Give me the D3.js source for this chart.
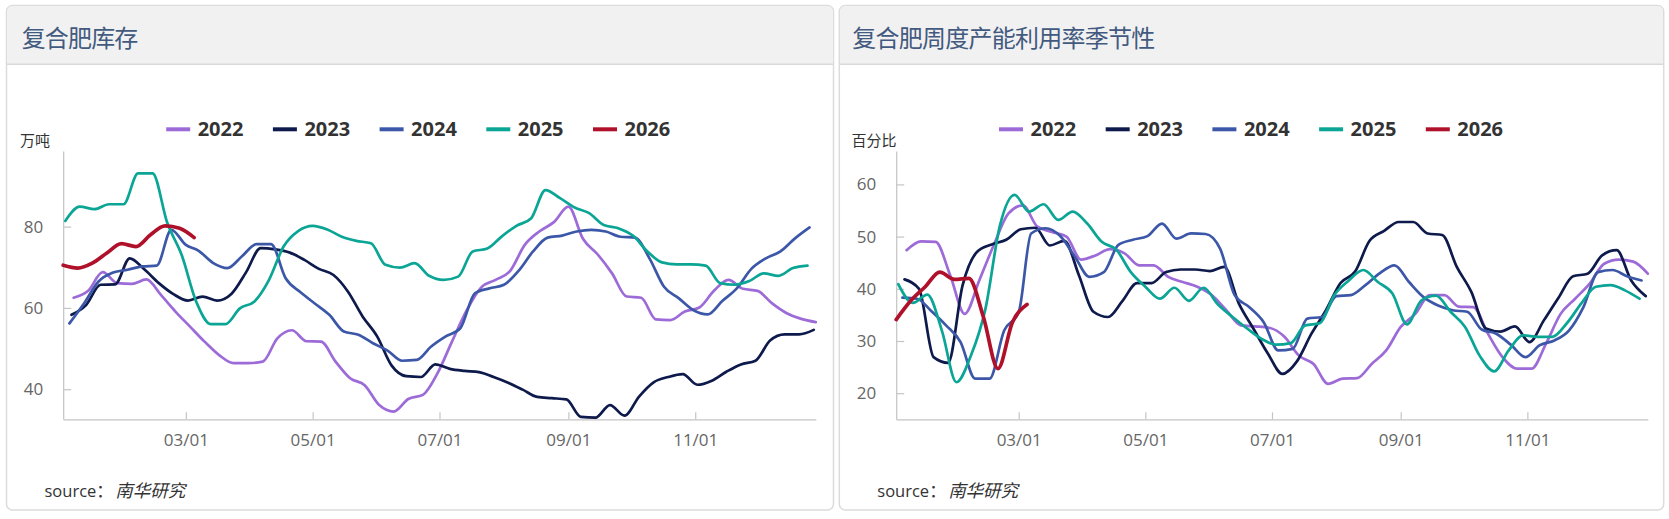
<!DOCTYPE html>
<html><head><meta charset="utf-8">
<script src="https://cdn.jsdelivr.net/npm/d3@7/dist/d3.min.js"></script>
<style>
html,body{margin:0;padding:0;background:#fff;}
svg{display:block;}
text{font-family:"Open Sans","Noto Sans CJK SC",sans-serif;}
</style></head>
<body>
<svg id="c" width="1669" height="519"></svg>
<script>
// ---------- data ----------
const years = ["2022","2023","2024","2025","2026"];
const colors = ["#9d6bd8","#0d1a4b","#3c57a8","#0ba596","#b0112a"];
const widths = [2.7,2.7,2.7,2.7,3.7];
// first weekly (Thursday) observation of each year; later points are weekly
const firstDates = ["2022-01-06","2023-01-05","2024-01-04","2025-01-02","2026-01-01"];
const xTickLabels = ["03/01","05/01","07/01","09/01","11/01"];

// 复合肥库存 (万吨)
const inv2022 = [62.5,64.2,68.8,66.1,65.9,67.0,63.2,59.1,55.4,51.7,48.4,46.4,46.4,46.8,52.5,54.5,51.8,51.7,46.8,42.7,41.0,36.1,34.5,37.6,38.6,43.9,51.7,59.3,65.0,66.9,69.1,75.5,78.8,81.1,84.9,77.0,73.2,68.5,62.8,62.5,57.2,57.0,59.1,60.1,64.2,66.9,64.7,64.2,61.1,58.7,57.3,56.5];
const inv2023 = [58.3,60.7,65.7,65.8,72.2,69.5,66.1,63.4,61.8,62.8,61.8,63.5,68.8,74.7,74.4,73.6,71.8,69.6,68.1,64.0,57.9,53.0,45.8,43.2,43.0,46.1,45.0,44.5,44.2,43.0,41.6,39.9,38.1,37.8,37.5,33.2,33.0,36.1,33.5,38.2,41.7,43.0,43.7,41.1,42.1,44.3,46.1,47.0,52.0,53.5,53.5,54.6];
const inv2024 = [56.2,61.1,66.5,68.7,69.4,70.2,70.4,79.2,75.5,74.1,71.1,69.8,72.7,75.7,75.7,67.3,63.9,61.1,58.3,54.2,53.4,51.3,49.5,47.0,47.2,50.5,53.0,55.0,63.6,64.8,65.7,69.1,73.9,77.3,77.8,78.8,79.2,78.8,77.5,77.3,72.2,65.2,62.4,59.5,58.4,61.7,64.8,69.6,72.2,73.9,77.1,79.8];
const inv2025 = [81.4,84.9,84.3,85.5,85.5,93.1,93.1,81.0,73.0,61.5,56.0,56.0,59.9,61.6,66.9,75.1,78.9,80.2,79.3,77.5,76.5,75.9,70.6,69.9,71.0,67.9,66.9,67.7,73.9,74.6,77.6,80.2,82.0,89.0,87.0,84.7,83.3,80.4,79.6,77.8,73.9,71.2,70.7,70.7,70.4,66.1,65.7,66.6,68.5,67.9,69.8,70.4];
const inv2026 = [70.5,69.8,71.0,73.5,75.8,75.1,78.0,80.2,79.6,77.3];
const invTicks = [40,60,80];

// 复合肥周度产能利用率 (百分比)
const util2022 = [47.4,49.1,49.0,42.6,35.2,41.6,48.4,54.4,56.0,51.9,50.9,50.0,45.6,46.4,47.6,46.8,44.5,44.5,42.3,41.3,40.4,38.8,35.9,33.0,32.8,32.5,30.8,27.2,25.6,21.8,22.8,22.9,25.6,28.2,32.7,35.2,38.8,38.8,36.6,36.5,31.4,26.9,24.7,24.7,29.5,35.2,38.1,41.0,44.8,45.6,45.2,42.9];
const util2023 = [41.8,40.0,26.9,25.8,40.7,47.1,48.5,49.4,51.4,51.7,48.3,49.2,42.6,35.6,34.6,37.7,41.1,41.1,43.2,43.7,43.7,43.4,44.2,37.2,32.4,27.6,23.7,26.1,31.4,35.9,41.1,43.3,49.2,51.1,52.8,52.8,50.6,50.3,44.2,39.4,32.4,31.8,32.8,29.8,34.0,38.3,42.4,42.9,46.4,47.4,41.6,38.6];
const util2024 = [38.3,38.1,35.7,33.0,29.8,22.8,22.8,32.0,35.5,50.6,51.6,50.1,46.2,42.3,43.2,48.4,49.4,50.1,52.5,49.6,50.6,50.5,47.7,38.8,36.5,33.6,28.2,28.5,34.3,34.6,38.6,38.8,40.7,43.0,44.5,41.3,38.4,36.8,35.9,35.6,32.2,31.4,29.3,26.9,29.2,30.1,32.0,36.5,43.2,43.6,42.4,41.6];
const util2025 = [40.9,37.3,38.9,32.0,22.1,27.2,36.2,52.2,58.0,54.8,56.2,53.2,54.8,52.5,49.0,47.5,43.2,40.4,38.1,40.2,37.7,40.2,37.0,34.6,32.4,30.4,29.3,29.6,33.0,33.4,38.8,41.6,43.6,41.3,39.1,33.2,37.8,38.7,35.6,32.7,27.2,24.2,28.2,31.1,30.8,30.8,33.4,37.2,40.4,40.7,39.7,38.1];
const util2026 = [34.1,37.7,40.4,43.2,41.8,42.0,34.6,24.7,33.6,37.0];
const utilTicks = [20,30,40,50,60];

// ---------- drawing ----------
const svg = d3.select("#c");
const BASE = 2025;
const parseISO = d3.timeParse("%Y-%m-%d");
function toBase(dt){ return new Date(BASE, dt.getMonth(), dt.getDate()); }
function seriesPoints(values, first){
  const f = parseISO(first);
  return values.map((v,i)=>({date: toBase(d3.timeDay.offset(f, 7*i)), value: v}));
}
const tickDates = xTickLabels.map(s=>{const [m,d]=s.split("/").map(Number); return new Date(BASE, m-1, d);});

function drawPanel(cfg){
  const g = svg.append("g");
  const {px, py, pw, ph} = cfg;
  const r = 6, hh = 58.8;
  g.append("rect").attr("x",px).attr("y",py).attr("width",pw).attr("height",ph)
    .attr("rx",r).attr("fill","#fff").attr("stroke","#dcdcdc").attr("stroke-width",1.5);
  g.append("path")
    .attr("d",`M${px+0.75},${py+hh} V${py+r} Q${px+0.75},${py+0.75} ${px+r},${py+0.75} H${px+pw-r} Q${px+pw-0.75},${py+0.75} ${px+pw-0.75},${py+r} V${py+hh} Z`)
    .attr("fill","#f1f1f1");
  g.append("line").attr("x1",px).attr("x2",px+pw).attr("y1",py+hh).attr("y2",py+hh)
    .attr("stroke","#d9d9d9").attr("stroke-width",1.5);
  g.append("text").attr("x",cfg.titleX).attr("y",37).attr("dominant-baseline","central")
    .attr("font-size",24).attr("textLength",cfg.titleLen).attr("lengthAdjust","spacing")
    .attr("fill","#435a80").text(cfg.title);

  const x = d3.scaleTime().domain([new Date(BASE,0,1), new Date(BASE,11,29)]).range([cfg.x0, cfg.x1]);
  const y = d3.scaleLinear().domain(cfg.yDomain).range([cfg.yb, cfg.yt]);

  const ya = g.append("g").attr("transform",`translate(${cfg.x0},0)`)
    .call(d3.axisLeft(y).tickValues(cfg.yTicks).tickSize(-8).tickSizeOuter(0).tickPadding(20));
  const xa = g.append("g").attr("transform",`translate(0,${cfg.yb})`)
    .call(d3.axisBottom(x).tickValues(tickDates).tickFormat((d,i)=>xTickLabels[i]).tickSize(-7).tickSizeOuter(0).tickPadding(15));
  [ya,xa].forEach(a=>{
    a.selectAll(".domain").attr("stroke","#c4c4c4").attr("stroke-width",1.2);
    a.selectAll(".tick line").attr("stroke","#c4c4c4").attr("stroke-width",1.2);
    a.selectAll(".tick text").attr("fill","#666").attr("font-size",17)
      .attr("font-family",'"Open Sans",sans-serif');
  });

  g.append("text").attr("x",cfg.unitX).attr("y",139.5).attr("dominant-baseline","central")
    .attr("font-size",15).attr("fill","#333").text(cfg.unit);

  const line = d3.line().x(d=>x(d.date)).y(d=>y(d.value)).curve(d3.curveMonotoneX);
  cfg.data.forEach((vals,k)=>{
    g.append("path").datum(seriesPoints(vals, firstDates[k]))
      .attr("fill","none").attr("stroke",colors[k]).attr("stroke-width",widths[k])
      .attr("stroke-linejoin","round").attr("stroke-linecap","round")
      .attr("d",line);
  });

  const lg = g.append("g");
  years.forEach((yr,k)=>{
    const lx = px + 159.7 + 106.7*k;
    lg.append("line").attr("x1",lx).attr("x2",lx+24).attr("y1",129.3).attr("y2",129.3)
      .attr("stroke",colors[k]).attr("stroke-width",4);
    lg.append("text").attr("x",lx+31.5).attr("y",136).attr("font-size",20)
      .attr("font-weight",700).attr("fill","#333").text(yr);
  });

  const st = g.append("text").attr("x",px+38).attr("y",490).attr("dominant-baseline","central").attr("fill","#333");
  st.append("tspan").attr("font-size",16.5).text("source");
  st.append("tspan").attr("font-size",17).text("：");
  st.append("tspan").attr("dx",2).attr("font-size",17.5).attr("font-style","italic").text("南华研究");
}

drawPanel({
  px:6.5, py:5.5, pw:827, ph:504.5,
  title:"复合肥库存", titleX:21.7, titleLen:116.6,
  x0:63.2, x1:815.8, yb:419.3, yt:151,
  yDomain:[32.6,98.6], yTicks:invTicks, unit:"万吨", unitX:20,
  data:[inv2022,inv2023,inv2024,inv2025,inv2026]
});
drawPanel({
  px:839.3, py:5.5, pw:824.4, ph:504.5,
  title:"复合肥周度产能利用率季节性", titleX:852.3, titleLen:303,
  x0:896.2, x1:1647.8, yb:419.3, yt:151,
  yDomain:[15,66.4], yTicks:utilTicks, unit:"百分比", unitX:851.5,
  data:[util2022,util2023,util2024,util2025,util2026]
});
</script>
</body></html>
